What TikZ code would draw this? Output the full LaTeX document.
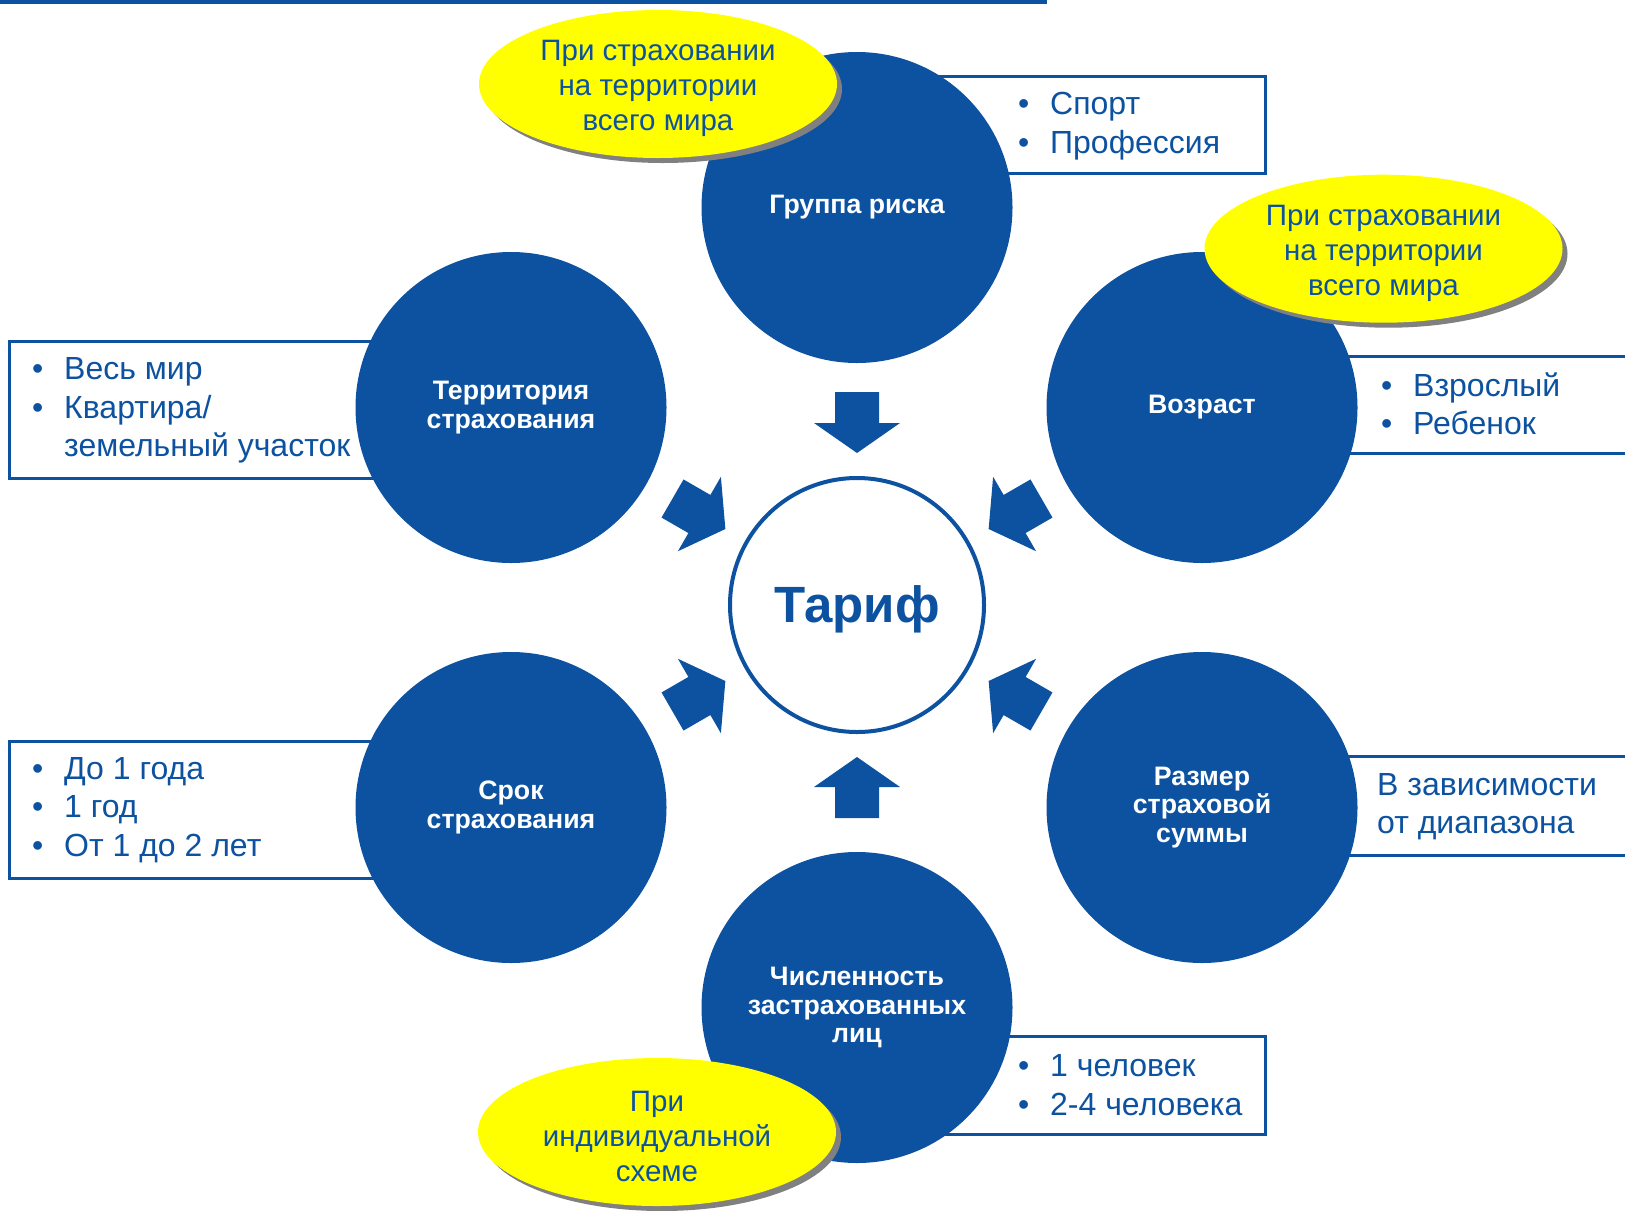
\documentclass[tikz,border=0pt]{standalone}
\usepackage{fontspec}
\setmainfont{Liberation Sans}
\usetikzlibrary{shapes.geometric,shadows}
\definecolor{myblue}{RGB}{12,82,160}
\definecolor{shadowgray}{RGB}{128,128,128}
\definecolor{yel}{RGB}{255,255,0}
\newcommand\bul{\makebox[32bp][l]{\textbullet}}
\tikzset{
  bigc/.style={circle, fill=myblue, minimum size=311bp, inner sep=0, text=white,
    font=\fontsize{26.7bp}{28.5bp}\selectfont\bfseries, align=center},
  note/.style={ellipse, fill=yel, minimum width=358bp, minimum height=148bp, inner sep=0,
    drop shadow={shadow xshift=5bp, shadow yshift=-5bp, fill=shadowgray, opacity=1}},
  notetext/.style={text=myblue, align=center, inner sep=0, font=\fontsize{29.5bp}{35bp}\selectfont},
  infobox/.style={draw=myblue, line width=3bp, fill=white},
  info/.style={text=myblue, align=left, anchor=west, inner sep=0,
    font=\fontsize{32bp}{38.5bp}\selectfont},
  blockarrow/.style={fill=myblue},
}
\begin{document}
\begin{tikzpicture}[x=1bp,y=-1bp]
\useasboundingbox (0,0) rectangle (1625,1210);
\fill[myblue] (0,0) rectangle (1047,3.5);
% info boxes
\draw[infobox] (900,76) rectangle (1265,173);
\draw[infobox] (9,341) rectangle (420,478);
\draw[infobox] (1300,356.5) rectangle (1640,453);
\draw[infobox] (9,741) rectangle (420,878);
\draw[infobox] (1300,756.5) rectangle (1640,855);
\draw[infobox] (900,1036.5) rectangle (1265,1134);
\node[info] (t1) at (1018,126) {\bul Спорт\\\bul Профессия};
\node[info] (t2) at (32,410.5) {\bul Весь мир\\\bul Квартира/\\\hspace*{32bp}земельный участок};
\node[info] (t3) at (1381,404) {\bul Взрослый\\\bul Ребенок};
\node[info] (t4) at (32,810) {\bul До 1 года\\\bul 1 год\\\bul От 1 до 2 лет};
\node[info] (t5) at (1377,806.5) {В зависимости\\от диапазона};
\node[info] (t6) at (1018,1085) {\bul 1 человек\\\bul 2-4 человека};
% circles
\node[bigc] (risk) at (857,207.5) {Группа риска};
\node[bigc] (terr) at (511,407.5) {Территория\\страхования};
\node[bigc] (age) at (1202,407.5) {Возраст};
\node[bigc] (term) at (511,807.5) {Срок\\страхования};
\node[bigc] (sum) at (1202,807.5) {Размер\\страховой\\суммы};
\node[bigc] (num) at (857,1007.5) {Численность\\застрахованных\\лиц};
% center
\node[circle, draw=myblue, line width=4bp, minimum size=254bp, fill=white, text=myblue,
  text height=40bp, text depth=6bp,
  font=\fontsize{51bp}{60bp}\selectfont\bfseries] (tarif) at (857,605) {Тариф};
\foreach \a in {90,30,150,210,270,330}{
  \begin{scope}[shift={(tarif.center)}, rotate=\a]
    \fill[blockarrow] (152,0) -- (182,43) -- (182,22) -- (213,22) -- (213,-22) -- (182,-22) -- (182,-43) -- cycle;
  \end{scope}
}
% notes
\node[note] (n1) at (658,84) {};
\node[notetext] (n1t) at ([yshift=-4.5bp]n1.center) {При страховании\\на территории\\всего мира};
\node[note] (n2) at (1383.5,248.7) {};
\node[notetext] (n2t) at ([yshift=-4.5bp]n2.center) {При страховании\\на территории\\всего мира};
\node[note] (n3) at (657,1132) {};
\node[notetext] (n3t) at ([yshift=-4.5bp]n3.center) {При\\индивидуальной\\схеме};
\end{tikzpicture}
\end{document}
